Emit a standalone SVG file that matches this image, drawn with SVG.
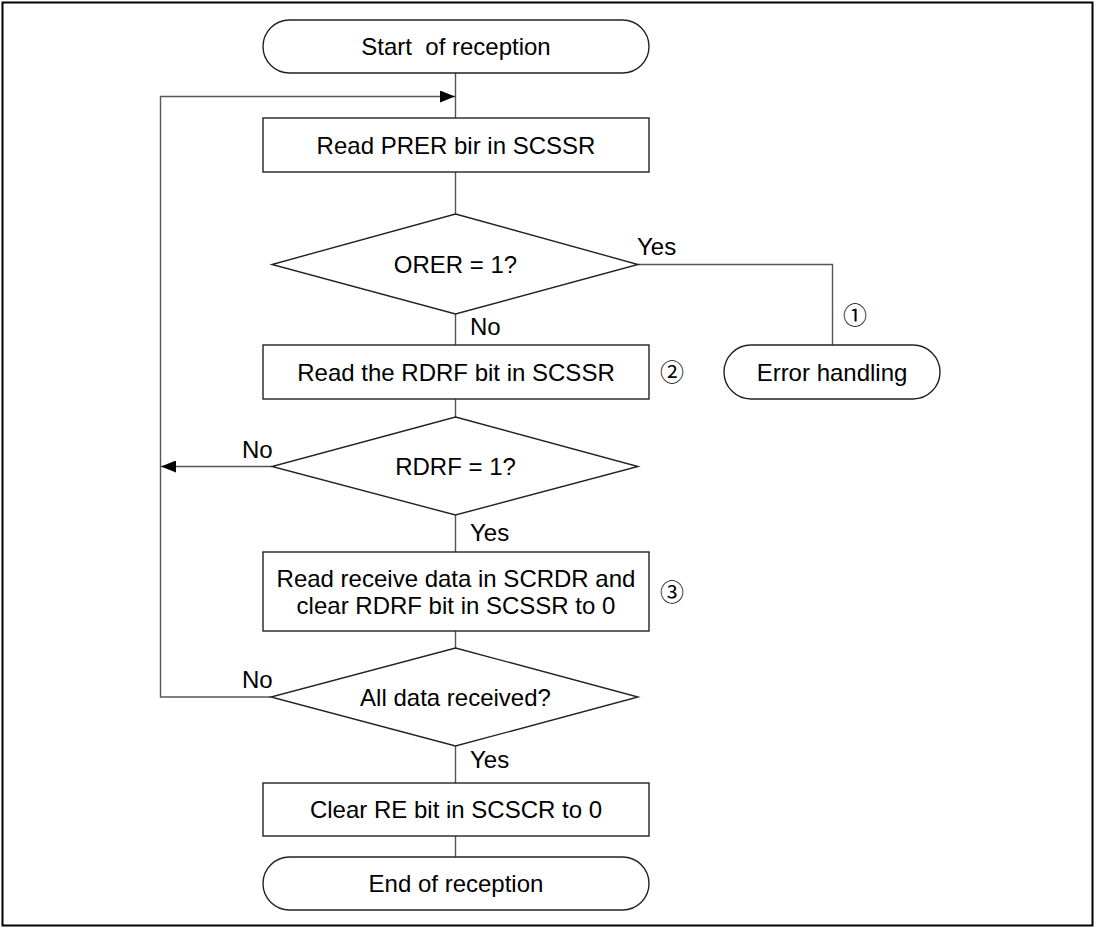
<svg xmlns="http://www.w3.org/2000/svg" width="1096" height="928" viewBox="0 0 1096 928">
<style>
.sh{fill:#fff;stroke:#222;stroke-width:1.4}
.cn{fill:none;stroke:#555;stroke-width:1.4}
text{font-family:"Liberation Sans",Arial,sans-serif;font-size:24px;fill:#000}
.c{text-anchor:middle}
.num{font-family:"Noto Sans CJK JP","Noto Sans CJK SC",sans-serif;font-size:24px;text-anchor:middle}
</style>
<defs>
<marker id="ah" markerWidth="15" markerHeight="12" refX="15" refY="6" orient="auto" markerUnits="userSpaceOnUse">
<path d="M0,0 L15,6 L0,12 Z" fill="#000"/>
</marker>
</defs>
<rect x="2.5" y="2.5" width="1090" height="923" fill="#fff" stroke="#000" stroke-width="2"/>
<g id="connectors">
<line class="cn" x1="455.5" y1="73" x2="455.5" y2="118"/>
<polyline class="cn" points="271,697 160.5,697 160.5,96.5 455,96.5" marker-end="url(#ah)"/>
<line class="cn" x1="455.5" y1="172" x2="455.5" y2="214"/>
<line class="cn" x1="455.5" y1="314" x2="455.5" y2="345"/>
<polyline class="cn" points="638,264.5 832.5,264.5 832.5,345"/>
<line class="cn" x1="455.5" y1="399" x2="455.5" y2="417"/>
<line class="cn" x1="272" y1="466.5" x2="161" y2="466.5" marker-end="url(#ah)"/>
<line class="cn" x1="455.5" y1="515" x2="455.5" y2="552"/>
<line class="cn" x1="455.5" y1="631" x2="455.5" y2="648"/>
<line class="cn" x1="455.5" y1="746" x2="455.5" y2="783"/>
<line class="cn" x1="455.5" y1="836" x2="455.5" y2="857"/>
</g>
<g id="start">
<rect class="sh" x="263" y="20" width="386" height="53" rx="26.5" ry="26.5"/>
<text class="c" x="456" y="55" style="white-space:pre">Start  of reception</text>
</g>
<g id="readPRER">
<rect class="sh" x="263" y="118" width="386" height="54"/>
<text class="c" x="456" y="154">Read PRER bir in SCSSR</text>
</g>
<g id="orer">
<polygon class="sh" points="455.5,214 638,264.5 455.5,314 272,264.5"/>
<text class="c" x="455.5" y="273">ORER = 1?</text>
<text x="637" y="255">Yes</text>
<text x="470" y="335">No</text>
</g>
<g id="error">
<rect class="sh" x="724" y="345" width="216" height="54" rx="27" ry="27"/>
<text class="c" x="832" y="381">Error handling</text>
<text class="num" x="855" y="324">①</text>
</g>
<g id="readRDRF">
<rect class="sh" x="263" y="345" width="386" height="54"/>
<text class="c" x="456" y="381">Read the RDRF bit in SCSSR</text>
<text class="num" x="672" y="381">②</text>
</g>
<g id="rdrf">
<polygon class="sh" points="455.5,417 638,466.5 455.5,515 272,466.5"/>
<text class="c" x="455.5" y="475">RDRF = 1?</text>
<text x="242" y="458">No</text>
<text x="470" y="541">Yes</text>
</g>
<g id="readData">
<rect class="sh" x="263" y="552" width="386" height="79"/>
<text class="c" x="456" y="587">Read receive data in SCRDR and</text>
<text class="c" x="456" y="614">clear RDRF bit in SCSSR to 0</text>
<text class="num" x="672" y="601">③</text>
</g>
<g id="allData">
<polygon class="sh" points="455.5,648 638,697 455.5,746 271,697"/>
<text class="c" x="455.5" y="706">All data received?</text>
<text x="242" y="688">No</text>
<text x="470" y="768">Yes</text>
</g>
<g id="clearRE">
<rect class="sh" x="263" y="783" width="386" height="53"/>
<text class="c" x="456" y="818">Clear RE bit in SCSCR to 0</text>
</g>
<g id="end">
<rect class="sh" x="263" y="857" width="386" height="53" rx="26.5" ry="26.5"/>
<text class="c" x="456" y="892">End of reception</text>
</g>
</svg>
